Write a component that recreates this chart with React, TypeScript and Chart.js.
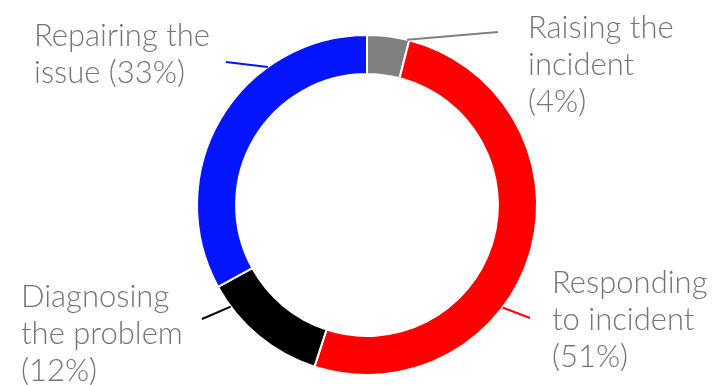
import React, { useEffect, useRef } from "react";
import { Chart, registerables } from "chart.js";

Chart.register(...registerables);

const categories = ["Raising the incident", "Responding to incident", "Diagnosing the problem", "Repairing the issue"];
const shares = [4, 51, 12, 33];
const colors = ["#808080", "#ff0000", "#000000", "#0515ff"];

// label text lines, left x, first baseline, leader: angle on ring (deg from top, clockwise), outer end point
const labelLines = [
  ["Raising the", "incident", "(4%)"],
  ["Responding", "to incident", "(51%)"],
  ["Diagnosing", "the problem", "(12%)"],
  ["Repairing the", "issue (33%)"],
];
const labelX = [528, 552, 21, 34];
const labelY = [38, 293, 307, 46];
const leaderAngle = [13.6, 127.1, 233.3, 324.3];
const leaderEndX = [498, 530, 202, 226];
const leaderEndY = [32, 318, 319, 62];

const labelPlugin = {
  id: "labelPlugin",
  afterDraw(chart: any) {
    const ctx = chart.ctx;
    const arc = chart.getDatasetMeta(0).data[0];
    if (!arc) return;
    const cx = arc.x;
    const cy = arc.y;
    const r = arc.outerRadius;
    ctx.save();
    for (let i = 0; i < labelLines.length; i++) {
      const a = (leaderAngle[i] * Math.PI) / 180;
      const sx = cx + r * Math.sin(a);
      const sy = cy - r * Math.cos(a);
      ctx.beginPath();
      ctx.strokeStyle = colors[i];
      ctx.lineWidth = 2;
      ctx.moveTo(sx, sy);
      ctx.lineTo(leaderEndX[i], leaderEndY[i]);
      ctx.stroke();
      ctx.fillStyle = "#757575";
      ctx.font = "300 31px Lato";
      ctx.textAlign = "left";
      ctx.textBaseline = "alphabetic";
      labelLines[i].forEach((t, j) => {
        ctx.fillText(t, labelX[i], labelY[i] + j * 37);
      });
    }
    ctx.restore();
  },
};

export default function App() {
  const ref = useRef<HTMLCanvasElement>(null);
  useEffect(() => {
    if (!ref.current) return;
    const chart = new Chart(ref.current, {
      type: "doughnut",
      data: {
        labels: categories,
        datasets: [
          {
            data: shares,
            backgroundColor: colors,
            borderColor: "#ffffff",
            borderWidth: 2,
          },
        ],
      },
      options: {
        responsive: false,
        animation: false,
        cutout: "77%",
        layout: { padding: { left: 196, right: 177, top: 34, bottom: 9 } },
        plugins: { legend: { display: false }, tooltip: { enabled: false } },
      },
      plugins: [labelPlugin],
    });
    return () => chart.destroy();
  }, []);
  return (
    <div style={{ position: "fixed", left: 0, top: 0, width: 715, height: 385, background: "#fff" }}>
      <canvas ref={ref} width={715} height={385} />
    </div>
  );
}
